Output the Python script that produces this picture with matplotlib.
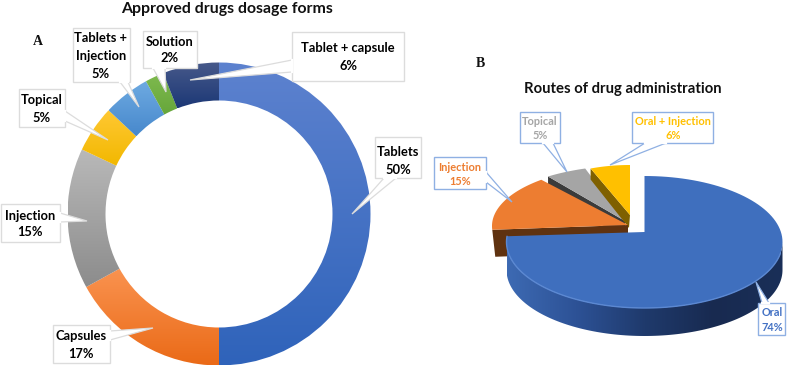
import numpy as np
import matplotlib
matplotlib.use("Agg")
import matplotlib.pyplot as plt
from matplotlib.colors import LinearSegmentedColormap
from matplotlib.patches import Polygon

# ---- data ----
forms = ["Tablets", "Capsules", "Injection", "Topical", "Tablets +\nInjection", "Solution", "Tablet + capsule"]
form_values = [50, 17, 15, 5, 5, 2, 6]
routes = ["Oral", "Injection", "Topical", "Oral + Injection"]
route_values = [74, 15, 5, 6]

# ---- styles ----
form_grad = [("#5d82cf", "#2f63ba"), ("#fa9350", "#ea6a17"), ("#b9b9b9", "#8c8c8c"),
             ("#ffc833", "#f2b800"), ("#6fabe2", "#4788cc"), ("#7fba4f", "#66a63a"),
             ("#47598a", "#1c3876")]
LABEL = "#000000"
FONT = ["Lato", "DejaVu Sans"]

fig = plt.figure(figsize=(7.87, 3.67), dpi=100, facecolor="white")
ax = fig.add_axes([0, 0, 1, 1])


def reset():
    ax.set_xlim(0, 787)
    ax.set_ylim(367, 0)
    ax.set_aspect("auto")
    ax.axis("off")


def fill_gradient(patch, c0, c1, horizontal=False, colors=None):
    cmap = LinearSegmentedColormap.from_list("g", colors or [c0, c1])
    box = patch.get_path().get_extents(patch.get_patch_transform())
    g = np.linspace(0, 1, 256)
    arr = g[None, :] if horizontal else g[:, None]
    im = ax.imshow(arr, extent=(box.x0, box.x1, box.y1, box.y0), cmap=cmap, aspect="auto",
                   zorder=patch.get_zorder(), interpolation="bilinear")
    im.set_clip_path(patch)
    patch.set_alpha(0)


# ---- A: donut ----
wedges, _ = ax.pie(form_values, startangle=-90, counterclock=True, center=(219, 214),
                   radius=151.5, wedgeprops=dict(width=38, linewidth=0),
                   normalize=True, frame=True)
reset()
for w, (c0, c1) in zip(wedges, form_grad):
    w.set_zorder(2)
    fill_gradient(w, c0, c1)


# ---- B: exploded 3-D pie, one slice at a time ----
def arc(t0, t1, c, a, b, dy=0, n=120):
    t = np.radians(np.linspace(t0, t1, n))
    return np.column_stack([c[0] + a * np.sin(t), c[1] - b * np.cos(t) + dy])


def poly(pts, color, z):
    p = Polygon(pts, closed=True, facecolor=color, edgecolor="none", zorder=z)
    ax.add_patch(p)
    return p


fr = np.cumsum([0] + route_values) * 360 / sum(route_values)
DEPTH = 27

# topical
g = arc(fr[2], fr[3], (636, 215), 138, 50)
apex = np.array([625, 221])
poly([g[0], g[0] + [0, 26], apex + [0, 14], apex], "#3b3b3b", 3.0)
poly(np.vstack([g, apex]), "#a5a5a5", 3.1)

# oral + injection
y = arc(fr[3], fr[4], (630, 215), 107, 50)
apex = np.array([630, 215])
poly([y[0], y[0] + [0, 11], apex + [-1, 13], apex], "#7f6000", 3.2)
poly(np.vstack([y, apex]), "#ffc000", 3.3)

# injection
o = arc(fr[1], fr[2], (628, 226), 136, 60)
apex = np.array([628, 225])
poly([o[0], o[0] + [3, DEPTH], apex + [0, DEPTH], apex], "#5f3210", 3.4)
poly(np.vstack([o, apex]), "#ed7d31", 3.5)

# oral
scale = 275 / fr[1]
C, A, B = (644.5, 242), 138, 66
wall_top = arc(90, fr[1] * scale, C, A, B)
wall_bot = arc(90, fr[1] * scale, C, A, B, dy=28)
wall = poly(np.vstack([wall_top, wall_bot[::-1]]), "#2f5597", 3.6)
fill_gradient(wall, None, None, horizontal=True,
              colors=["#3d6ab3", "#2d5296", "#1f3a6c", "#182a50", "#1a2f58"])
top = arc(0, fr[1] * scale, C, A, B)
poly(np.vstack([top, [644.5, 232]]), "#3f6fbe", 3.7)
rim = arc(100, fr[1] * scale, C, A, B)
ax.plot(rim[:, 0], rim[:, 1], color="#5b88d2", lw=1.0, zorder=3.8, solid_capstyle="round")


# ---- callouts ----
def callout(box, base, tip, lines, ycs, xc, color=LABEL, edge="#dcdcdc", fs=9.25, weight="bold"):
    x0, y0, x1, y1 = box
    pts = [(x0, y0), (x1, y0), (x1, y1), (x0, y1)]
    ax.add_patch(Polygon(pts, closed=True, fc="white", ec=edge, lw=1.0, zorder=5))
    ax.add_patch(Polygon([base[0], tip, base[1]], closed=False, fc="white", ec=edge, lw=0.9, zorder=5.1))
    ax.plot([base[0][0], base[1][0]], [base[0][1], base[1][1]], color="white", lw=1.6, zorder=5.2)
    for s, yc in zip(lines, ycs):
        ax.text(xc, yc + 0.5, s, ha="center", va="center", fontsize=fs, color=color,
                fontweight=weight, family=FONT, zorder=6)


def split(name, v):
    return name.split("\n") + [f"{v}%"]


callout((375, 137, 421, 178), ((384, 178), (396, 178)), (352, 214), split(forms[0], form_values[0]), (151, 169), 398)
callout((53, 325, 110, 363), ((110, 331), (110, 340)), (153, 328), split(forms[1], form_values[1]), (336, 353), 81)
callout((1, 204, 60, 242), ((60, 213), (60, 222)), (87, 221), split(forms[2], form_values[2]), (215, 232), 30)
callout((19, 89, 65, 127), ((65, 111), (65, 121)), (108, 140), split(forms[3], form_values[3]), (100, 117), 42)
callout((73, 28, 130, 82), ((120, 82), (128, 82)), (139, 107), split(forms[4], form_values[4]), (38, 55, 73), 101)
callout((143, 31, 197, 68), ((153, 68), (165, 68)), (166, 92), split(forms[5], form_values[5]), (41, 58), 170)
callout((292, 32, 404, 81), ((292, 60), (292, 72)), (190, 80), split(forms[6], form_values[6]), (48, 65), 348)

BE = "#8fb0e3"
callout((758, 303, 785, 335), ((762, 303), (769, 303)), (756, 282), split(routes[0], route_values[0]), (312, 327), 772,
        color="#4472c4", edge=BE, fs=7.9, weight="bold")
callout((434, 157, 486, 189), ((486, 172), (486, 182)), (512, 202), split(routes[1], route_values[1]), (167, 181), 460,
        color="#ed7d31", edge=BE, fs=7.9, weight="bold")
callout((520, 112, 560, 143), ((543, 143), (553, 143)), (567, 172), split(routes[2], route_values[2]), (121, 135), 540,
        color="#a5a5a5", edge=BE, fs=7.9, weight="bold")
callout((632, 112, 713, 143), ((645, 143), (666, 143)), (610, 165), split(routes[3], route_values[3]), (121, 135), 673,
        color="#ffc000", edge=BE, fs=7.9, weight="bold")

# ---- titles ----
ax.text(227, 9, "Approved drugs dosage forms", ha="center", va="center", fontsize=11.4,
        fontweight="bold", family=FONT, color="#111111", zorder=7)
ax.text(623, 88.5, "Routes of drug administration", ha="center", va="center", fontsize=10.75,
        fontweight="bold", family=FONT, color="#111111", zorder=7)
ax.text(38, 41.5, "A", ha="center", va="center", fontsize=10, fontweight="bold",
        family="Liberation Serif", color="#111111", zorder=7)
ax.text(480, 63.5, "B", ha="center", va="center", fontsize=10, fontweight="bold",
        family="Liberation Serif", color="#111111", zorder=7)

reset()
fig.savefig("out.png", dpi=100, facecolor="white")
